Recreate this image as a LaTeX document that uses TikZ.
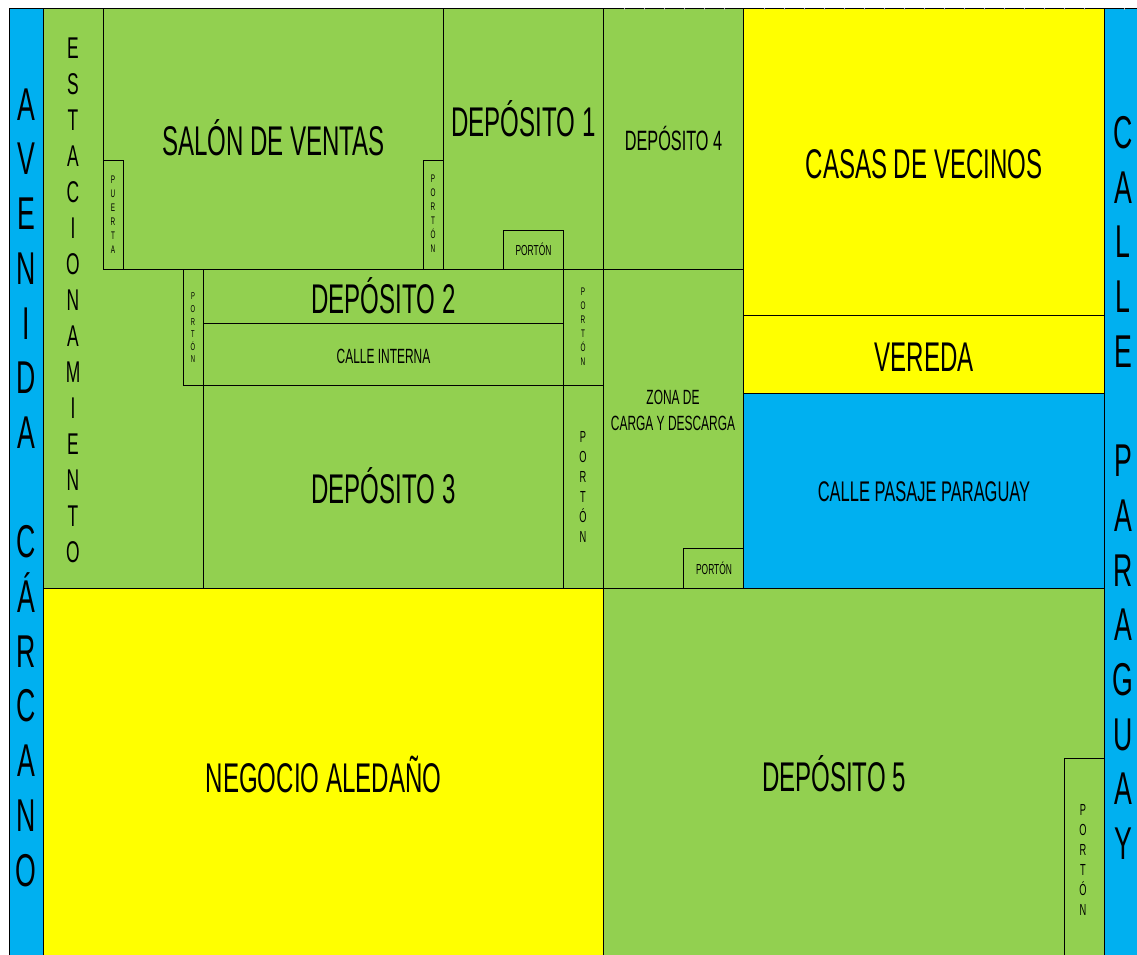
\documentclass[tikz,border=0pt]{standalone}
\usepackage{fontspec}
\setmainfont[FakeStretch=0.58]{Liberation Sans}
\definecolor{planogreen}{HTML}{92D050}
\definecolor{planoyellow}{HTML}{FFFF00}
\definecolor{planoblue}{HTML}{00B0F0}
\begin{document}
\begin{tikzpicture}
[
    x=1pt,y=-1pt,
    every node/.style = {inner sep=0pt,align=center},
]
\tikzstyle{green}=[draw=black,line width=1pt,fill=planogreen]
\tikzstyle{yellow}=[draw=black,line width=1pt,fill=planoyellow]
\tikzstyle{blue}=[draw=black,line width=1pt,fill=planoblue]
\tikzstyle{wall}=[draw=black,line width=1pt]
\tikzstyle{title}=[font=\fontsize{41.5}{48}\selectfont]
\tikzstyle{medium}=[font=\fontsize{28.4}{32}\selectfont]
\tikzstyle{small}=[font=\fontsize{20.6}{26}\selectfont]
\tikzstyle{tiny}=[font=\fontsize{14.5}{17}\selectfont]
\tikzstyle{street}=[font=\fontsize{46}{54.7}\selectfont]
\tikzstyle{parking}=[font=\fontsize{30}{36}\selectfont]
\tikzstyle{gatebig}=[font=\fontsize{16}{19.9}\selectfont]
\tikzstyle{gatesmall}=[font=\fontsize{11}{14}\selectfont]
\tikzstyle{gatenarrow}=[font=\fontsize{10}{12.6}\selectfont]
\useasboundingbox (0,0) rectangle (1137,955);
\clip (0,0) rectangle (1137,955);

% streets and neighbours
\draw[blue] (9,9) rectangle (43,965);
\draw[blue] (1104.5,9) rectangle (1145,965);
\draw[green] (43,9) rectangle (603.5,588);
\draw[yellow] (43,588) rectangle (603.5,965);
\draw[green] (603.5,588) rectangle (1104.5,965);
\draw[green] (603.5,9) rectangle (743.5,588);
\draw[yellow] (743.5,9) rectangle (1104.5,315.5);
\draw[yellow] (743.5,315.5) rectangle (1104.5,393);
\draw[blue] (743.5,393) rectangle (1104.5,588);

% rooms
\draw[wall] (103,9) rectangle (443,269);
\draw[wall] (443,9) rectangle (603.5,269);
\draw[wall] (603.5,9) rectangle (743.5,269);
\draw[wall] (203,269) rectangle (563,323);
\draw[wall] (203,323) rectangle (563,385);
\draw[wall] (203,385) rectangle (563,588);

% gates
\draw[wall] (103,160) rectangle (123,269);
\draw[wall] (423,160) rectangle (443,269);
\draw[wall] (503,230) rectangle (563,269);
\draw[wall] (183,269) rectangle (203,385);
\draw[wall] (563,269) rectangle (603.5,385);
\draw[wall] (563,385) rectangle (603.5,588);
\draw[wall] (683,548) rectangle (743.5,588);
\draw[wall] (1064,758) rectangle (1104.5,965);

%marks along the top edge
\foreach \tick in {624,644,664,684,704,724,764,784,804,824,844,864,884,904,924,944,964,984,1004,1024,1044,1064,1084,1124}
    \draw[gray!60,line width=0.6pt] (\tick,8) -- (\tick,10);

\node (avenida) [street] at (26,487.5) {A\\V\\E\\N\\I\\D\\A\\~\\C\\Á\\R\\C\\A\\N\\O};
\node (paraguay) [street] at (1123,488) {C\\A\\L\\L\\E\\~\\P\\A\\R\\A\\G\\U\\A\\Y};
\node (estacionamiento) [parking] at (73,300) {E\\S\\T\\A\\C\\I\\O\\N\\A\\M\\I\\E\\N\\T\\O};

\node (salon) [title] at (273.5,138) {SALÓN DE VENTAS};
\node (dep1) [title] at (523.5,118.5) {DEPÓSITO 1};
\node (dep2) [title] at (383.5,296) {DEPÓSITO 2};
\node (dep3) [title] at (383.5,486) {DEPÓSITO 3};
\node (dep4) [font=\fontsize{28}{32}\selectfont] at (673.5,138) {DEPÓSITO 4};
\node (dep5) [title] at (834,774) {DEPÓSITO 5};
\node (casas) [title] at (924,164) {CASAS DE VECINOS};
\node (vereda) [title] at (924,357) {VEREDA};
\node (negocio) [title] at (323.5,774) {NEGOCIO ALEDAÑO};
\node (pasaje) [medium] at (924,492) {CALLE PASAJE PARAGUAY};
\node (interna) [small] at (383.5,356) {CALLE INTERNA};
\node (zona) [small] at (673,410) {ZONA DE\\CARGA Y DESCARGA};

\node (puerta) [gatesmall] at (113,215) {P\\U\\E\\R\\T\\A};
\node (porton1) [gatesmall] at (433,214) {P\\O\\R\\T\\Ó\\N};
\node (porton2) [tiny] at (533.5,249) {PORTÓN};
\node (porton3) [gatenarrow] at (193,328) {P\\O\\R\\T\\Ó\\N};
\node (porton4) [gatesmall] at (583,327) {P\\O\\R\\T\\Ó\\N};
\node (porton5) [gatebig] at (583,487) {P\\O\\R\\T\\Ó\\N};
\node (porton6) [tiny] at (714,568) {PORTÓN};
\node (porton7) [gatebig] at (1083,860) {P\\O\\R\\T\\Ó\\N};
\end{tikzpicture}
\end{document}
